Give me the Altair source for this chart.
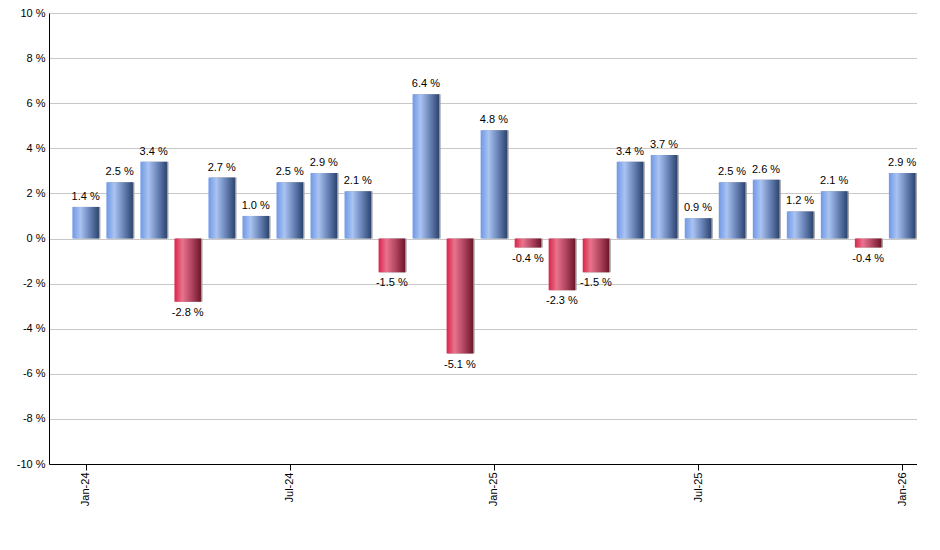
import altair as alt
import pandas as pd

months = ["Jan-24", "Feb-24", "Mar-24", "Apr-24", "May-24", "Jun-24", "Jul-24", "Aug-24",
          "Sep-24", "Oct-24", "Nov-24", "Dec-24", "Jan-25", "Feb-25", "Mar-25", "Apr-25",
          "May-25", "Jun-25", "Jul-25", "Aug-25", "Sep-25", "Oct-25", "Nov-25", "Dec-25", "Jan-26"]
values = [1.4, 2.5, 3.4, -2.8, 2.7, 1.0, 2.5, 2.9, 2.1, -1.5, 6.4, -5.1, 4.8, -0.4,
          -2.3, -1.5, 3.4, 3.7, 0.9, 2.5, 2.6, 1.2, 2.1, -0.4, 2.9]
tick_labels = ["Jan-24", "Jul-24", "Jan-25", "Jul-25", "Jan-26"]
y_ticks = [-10, -8, -6, -4, -2, 0, 2, 4, 6, 8, 10]

df = pd.DataFrame({"i": list(range(len(values))), "month": months, "v": values})
df["label"] = [f"{v:.1f} %" for v in values]

tick_idx = [months.index(m) for m in tick_labels]
label_expr = "[" + ",".join(f"'{m}'" for m in months) + "][datum.value]"

FONT = "Liberation Sans"

x_enc = alt.X(
    "i:Q",
    scale=alt.Scale(domain=[-0.93, 24.29], nice=False, zero=False),
    axis=alt.Axis(values=tick_idx, labelExpr=label_expr, labelAngle=-90, grid=False,
                  title=None, domainColor="black", tickColor="black", tickSize=6,
                  labelFontSize=11, labelColor="black", labelPadding=2, labelFont=FONT),
)
y_enc = alt.Y(
    "v:Q",
    scale=alt.Scale(domain=[-10, 10], nice=False),
    axis=alt.Axis(values=y_ticks, labelExpr="datum.value + ' %'", grid=True,
                  gridColor="#c8c8c8", domainColor="black", tickSize=0, labelPadding=4,
                  title=None, labelFontSize=11, labelColor="black", labelFont=FONT),
)

blue = alt.LinearGradient(
    gradient="linear", x1=0, x2=1, y1=0, y2=0,
    stops=[alt.GradientStop(color="#6f98e6", offset=0),
           alt.GradientStop(color="#a9c3f2", offset=0.3),
           alt.GradientStop(color="#6a84b8", offset=0.65),
           alt.GradientStop(color="#2c4470", offset=1)],
)
red = alt.LinearGradient(
    gradient="linear", x1=0, x2=1, y1=0, y2=0,
    stops=[alt.GradientStop(color="#d8244c", offset=0),
           alt.GradientStop(color="#e9738c", offset=0.3),
           alt.GradientStop(color="#b04560", offset=0.65),
           alt.GradientStop(color="#6e1628", offset=1)],
)

base = alt.Chart(df)

shadow = base.mark_bar(color="#9a9a9a", width=26.5, xOffset=1.5).encode(x=x_enc, y=y_enc)
pos = base.transform_filter("datum.v >= 0").mark_bar(color=blue, width=26.5).encode(x=x_enc, y=y_enc)
neg = base.transform_filter("datum.v < 0").mark_bar(color=red, width=26.5).encode(x=x_enc, y=y_enc)
pos_txt = base.transform_filter("datum.v >= 0").mark_text(
    baseline="bottom", dy=-5, fontSize=11, font=FONT, color="black"
).encode(x=x_enc, y=y_enc, text="label:N")
neg_txt = base.transform_filter("datum.v < 0").mark_text(
    baseline="top", dy=5, fontSize=11, font=FONT, color="black"
).encode(x=x_enc, y=y_enc, text="label:N")

chart = alt.layer(shadow, pos, neg, pos_txt, neg_txt).properties(
    width=868, height=451,
    padding={"left": 41, "top": 5, "right": 0, "bottom": 55},
    autosize="none",
).configure_view(stroke="transparent").configure(font=FONT, background="white")

chart.save("out.html", embed_options={"renderer": "svg", "actions": False})
